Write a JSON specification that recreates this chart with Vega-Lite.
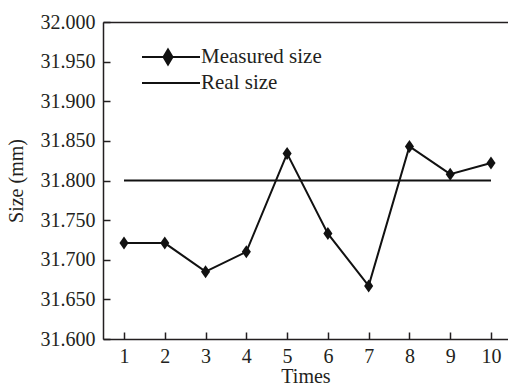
{
  "$schema": "https://vega.github.io/schema/vega-lite/v6.json",
  "autosize": {"type": "none"},
  "padding": {"left": 103, "top": 22, "right": 0, "bottom": 48},
  "width": 405,
  "height": 317,
  "background": "white",
  "config": {
    "font": "Liberation Serif",
    "view": {"stroke": null},
    "axis": {
      "labelFont": "Liberation Serif",
      "titleFont": "Liberation Serif",
      "labelFontSize": 20,
      "titleFontSize": 20,
      "titleFontWeight": "normal",
      "labelColor": "#231f20",
      "titleColor": "#231f20",
      "domainColor": "#231f20",
      "tickColor": "#231f20",
      "domainWidth": 1.5,
      "tickWidth": 1.5,
      "grid": false
    },
    "legend": {
      "labelFont": "Liberation Serif",
      "labelFontSize": 21,
      "labelColor": "#231f20"
    }
  },
  "datasets": {
    "measured": [
      {"time": 1, "size": 31.721, "series": "Measured size"},
      {"time": 2, "size": 31.721, "series": "Measured size"},
      {"time": 3, "size": 31.685, "series": "Measured size"},
      {"time": 4, "size": 31.710, "series": "Measured size"},
      {"time": 5, "size": 31.834, "series": "Measured size"},
      {"time": 6, "size": 31.733, "series": "Measured size"},
      {"time": 7, "size": 31.667, "series": "Measured size"},
      {"time": 8, "size": 31.843, "series": "Measured size"},
      {"time": 9, "size": 31.808, "series": "Measured size"},
      {"time": 10, "size": 31.822, "series": "Measured size"}
    ],
    "real": [
      {"time": 1, "size": 31.8, "series": "Real size"},
      {"time": 10, "size": 31.8, "series": "Real size"}
    ]
  },
  "resolve": {"axis": {"x": "independent"}},
  "encoding": {
    "y": {
      "field": "size",
      "type": "quantitative",
      "scale": {"domain": [31.6, 32.0], "nice": false, "zero": false},
      "axis": {
        "title": "Size (mm)",
        "values": [31.6, 31.65, 31.7, 31.75, 31.8, 31.85, 31.9, 31.95, 32.0],
        "format": ".3f",
        "tickSize": -7,
        "labelPadding": 15,
        "titlePadding": 14
      }
    }
  },
  "layer": [
    {
      "data": {"name": "real"},
      "mark": {"type": "line", "strokeWidth": 2},
      "encoding": {
        "x": {
          "field": "time",
          "type": "quantitative",
          "scale": {"domain": [0.485, 10.417], "nice": false, "zero": false},
          "axis": {
            "title": "Times",
            "values": [1, 2, 3, 4, 5, 6, 7, 8, 9, 10],
            "format": "d",
            "tickSize": -7,
            "labelPadding": 14,
            "titlePadding": 0
          }
        },
        "color": {
          "field": "series",
          "type": "nominal",
          "scale": {"domain": ["Measured size", "Real size"], "range": ["#111111", "#111111"]},
          "legend": {
            "title": null,
            "orient": "none",
            "legendX": 38,
            "legendY": 24,
            "symbolSize": 400,
            "symbolType": "M-1,0L4.8,0",
            "symbolStrokeWidth": 2,
            "labelOffset": 38,
            "rowPadding": 3,
            "encode": {
              "symbols": {
                "update": {
                  "shape": {"signal": "datum.value === 'Measured size' ? 'M-1,0L4.8,0M1.6,-0.75L2.05,0L1.6,0.75L1.15,0Z' : 'M-1,0L4.8,0'"},
                  "fill": {"value": "#111111"},
                  "stroke": {"value": "#111111"},
                  "strokeWidth": {"value": 2}
                }
              }
            }
          }
        }
      }
    },
    {
      "data": {"name": "measured"},
      "mark": {
        "type": "line",
        "strokeWidth": 2,
        "point": {"shape": "M0,-1L0.7,0L0,1L-0.7,0Z", "size": 169, "filled": true, "fill": "#111111", "opacity": 1}
      },
      "encoding": {
        "x": {"field": "time", "type": "quantitative", "axis": null},
        "color": {"field": "series", "type": "nominal"}
      }
    },
    {
      "data": {"name": "measured"},
      "mark": {"type": "point", "opacity": 0},
      "encoding": {
        "x": {
          "field": "time",
          "type": "quantitative",
          "axis": {"orient": "top", "title": null, "labels": false, "ticks": false, "domain": true}
        }
      }
    }
  ]
}
